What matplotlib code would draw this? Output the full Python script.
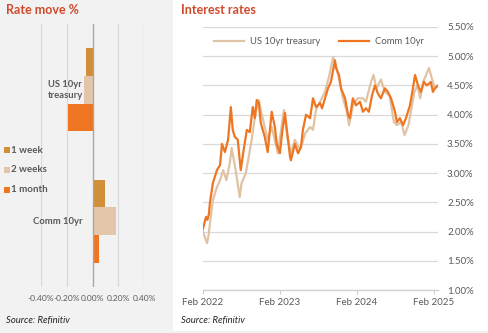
import matplotlib
matplotlib.use("Agg")
import matplotlib.pyplot as plt
import pandas as pd
from matplotlib.patches import Rectangle

# ---------------- data ----------------
bar_categories = ["US 10yr\ntreasury", "Comm 10yr"]
bar_series = ["1 week", "2 weeks", "1 month"]
move_1w = [-0.05, 0.10]
move_2w = [-0.065, 0.185]
move_1m = [-0.19, 0.05]
bar_ticks = [-0.40, -0.20, 0.0, 0.20, 0.40]

comm_dates = ["2022-02-01", "2022-02-08", "2022-02-15", "2022-02-22", "2022-03-01", "2022-03-06",
              "2022-03-20", "2022-04-08", "2022-04-23", "2022-05-02", "2022-05-16", "2022-05-31",
              "2022-06-13", "2022-06-22", "2022-07-02", "2022-07-16", "2022-07-30", "2022-08-13",
              "2022-08-28", "2022-09-11", "2022-09-25", "2022-10-05", "2022-10-14", "2022-10-24",
              "2022-11-02", "2022-11-21", "2022-12-05", "2022-12-24", "2023-01-08", "2023-01-17",
              "2023-02-01", "2023-02-11", "2023-02-25", "2023-03-02", "2023-03-21", "2023-03-25",
              "2023-04-13", "2023-04-28", "2023-05-12", "2023-05-21", "2023-06-05", "2023-06-24",
              "2023-07-08", "2023-07-22", "2023-07-31", "2023-08-10", "2023-08-20", "2023-09-03",
              "2023-09-17", "2023-10-01", "2023-10-20", "2023-10-25", "2023-11-08", "2023-11-18",
              "2023-12-07", "2023-12-21", "2023-12-30", "2024-01-13", "2024-01-28", "2024-02-16",
              "2024-03-01", "2024-03-15", "2024-03-29", "2024-04-13", "2024-04-27", "2024-05-11",
              "2024-05-25", "2024-06-13", "2024-06-27", "2024-07-12", "2024-07-31", "2024-08-09",
              "2024-08-23", "2024-09-07", "2024-09-21", "2024-10-10", "2024-10-24", "2024-11-03",
              "2024-11-17", "2024-12-01", "2024-12-15", "2024-12-29", "2025-01-17", "2025-01-27",
              "2025-02-05", "2025-02-20"]
comm_10yr = [2.05, 2.15, 2.25, 2.20, 2.30, 2.50,
             2.83, 3.05, 3.14, 3.50, 3.36, 3.57,
             4.13, 3.74, 3.62, 3.57, 3.05, 3.40,
             3.74, 3.70, 4.13, 3.94, 4.25, 4.20,
             3.86, 3.62, 3.36, 4.05, 3.79, 3.50,
             3.34, 3.68, 4.03, 3.86, 3.28, 3.22,
             3.50, 3.34, 3.45, 3.74, 4.00, 3.94,
             4.28, 4.13, 4.16, 4.20, 4.11, 4.28,
             4.45, 4.56, 4.93, 4.80, 4.68, 4.45,
             4.28, 4.00, 3.94, 4.28, 4.16, 4.22,
             4.05, 4.11, 4.05, 4.33, 4.50, 4.36,
             4.28, 4.45, 4.39, 4.28, 4.05, 3.87,
             3.94, 3.82, 3.94, 4.16, 4.45, 4.68,
             4.50, 4.39, 4.56, 4.50, 4.56, 4.39,
             4.45, 4.50]

us_dates = ["2022-02-01", "2022-02-10", "2022-02-20", "2022-02-28", "2022-03-06", "2022-03-20",
            "2022-04-08", "2022-04-23", "2022-05-08", "2022-05-23", "2022-06-08", "2022-06-17",
            "2022-07-06", "2022-07-25", "2022-08-03", "2022-08-23", "2022-09-06", "2022-09-20",
            "2022-10-05", "2022-10-19", "2022-10-24", "2022-11-02", "2022-11-21", "2022-12-05",
            "2022-12-24", "2023-01-12", "2023-01-22", "2023-02-20", "2023-03-08", "2023-03-25",
            "2023-04-13", "2023-05-08", "2023-06-01", "2023-06-24", "2023-07-08", "2023-07-22",
            "2023-08-10", "2023-09-03", "2023-09-24", "2023-10-11", "2023-10-25", "2023-11-08",
            "2023-11-27", "2023-12-16", "2023-12-26", "2024-01-13", "2024-02-05", "2024-03-01",
            "2024-03-15", "2024-04-08", "2024-04-20", "2024-05-04", "2024-05-11", "2024-05-25",
            "2024-06-13", "2024-07-05", "2024-07-26", "2024-08-09", "2024-08-30", "2024-09-14",
            "2024-10-03", "2024-10-17", "2024-10-31", "2024-11-14", "2024-11-28", "2024-12-12",
            "2025-01-08", "2025-01-22", "2025-02-05", "2025-02-20"]
us_10yr = [2.00, 1.90, 1.80, 1.95, 2.14, 2.54,
           2.76, 2.88, 3.05, 2.88, 3.17, 3.43,
           3.05, 2.59, 2.83, 3.00, 3.28, 3.57,
           3.96, 4.22, 4.25, 4.08, 3.79, 3.57,
           3.79, 3.50, 3.34, 4.08, 3.62, 3.34,
           3.57, 3.40, 3.68, 3.79, 3.74, 4.08,
           4.22, 4.39, 4.68, 4.98, 4.85, 4.62,
           4.28, 4.05, 3.82, 4.16, 4.28, 4.28,
           4.22, 4.56, 4.68, 4.45, 4.50, 4.60,
           4.39, 4.33, 3.87, 3.82, 3.87, 3.65,
           3.82, 4.11, 4.39, 4.50, 4.28, 4.56,
           4.80, 4.62, 4.45, 4.50]

y_ticks = [1.0, 1.5, 2.0, 2.5, 3.0, 3.5, 4.0, 4.5, 5.0, 5.5]
x_tick_dates = ["2022-02-01", "2023-02-01", "2024-02-01", "2025-02-01"]

# ---------------- style ----------------
FONT = "Lato"
plt.rcParams["font.family"] = [FONT, "DejaVu Sans"]
GRAY_TXT = "#595959"
GRID = "#d9d9d9"
TITLE_C = "#cf4a2c"
C_1W = "#d18f3a"
C_2W = "#e3c6a9"
C_1M = "#ee7623"
C_US = "#e0c3a4"
C_COMM = "#ee7623"
TICK_FS = 7

W, H = 488, 333
fig = plt.figure(figsize=(W / 100, H / 100), dpi=100)
fig.patch.set_facecolor("#f2f2f2")
fig.add_artist(Rectangle((173 / W, 2 / H), (W - 173) / W, (H - 2) / H,
                         transform=fig.transFigure, facecolor="white",
                         edgecolor="none", zorder=0))

def fx(px):
    return px / W

def fy(py):
    return 1 - py / H

# ---------------- left: bar chart ----------------
axL = fig.add_axes([fx(41), fy(287), fx(144) - fx(41), fy(24) - fy(287)])
axL.set_facecolor("none")
bh = 0.21
ypos = list(range(len(bar_categories)))
for vals, off, col in [(move_1w, -bh, C_1W), (move_2w, 0, C_2W), (move_1m, bh, C_1M)]:
    axL.barh([y + off for y in ypos], vals, height=bh, color=col, zorder=3)
axL.set_ylim(1.5, -0.5)
axL.set_xlim(-0.4, 0.4)
axL.set_xticks(bar_ticks)
axL.set_xticklabels(["-0.40%", "-0.20%", "0.00%", "0.20%", "0.40%"])
axL.grid(axis="x", color=GRID, linewidth=0.9, zorder=0)
axL.axvline(0, color="#a6a6a6", linewidth=0.9, zorder=4)
axL.set_yticks([])
for s in axL.spines.values():
    s.set_visible(False)
axL.tick_params(axis="x", length=0, pad=6, labelsize=6.0, labelcolor=GRAY_TXT)
for y, lab in zip(ypos, bar_categories):
    axL.annotate(lab, xy=(0, y), xytext=(-7, 0), textcoords="offset points",
                 ha="right", va="center", fontsize=6.8, fontweight="bold",
                 color=GRAY_TXT, linespacing=1.25, multialignment="center", zorder=5)

# legend for bars
for i, (lab, col) in enumerate(zip(bar_series, [C_1W, C_2W, C_1M])):
    yy = 150 + 20 * i
    fig.add_artist(Rectangle((fx(4), fy(yy + 3)), fx(6), (6 / H),
                             transform=fig.transFigure, facecolor=col, edgecolor="none"))
    fig.text(fx(11), fy(yy), lab, fontsize=7, color=GRAY_TXT, va="center", ha="left",
             fontweight="bold")

fig.text(fx(6), fy(10), "Rate move %", fontsize=9, fontweight="bold", color=TITLE_C,
         va="center", ha="left")
fig.text(fx(6), fy(321), "Source: Refinitiv", fontsize=6.8, style="italic", color="#222222",
         va="center", ha="left")

# ---------------- right: line chart ----------------
axR = fig.add_axes([fx(203), fy(290), fx(438) - fx(203), fy(27) - fy(290)])
axR.set_facecolor("none")
us_x = pd.to_datetime(us_dates)
comm_x = pd.to_datetime(comm_dates)
axR.plot(us_x, us_10yr, color=C_US, linewidth=1.6, label="US 10yr treasury", zorder=3)
axR.plot(comm_x, comm_10yr, color=C_COMM, linewidth=1.6, label="Comm 10yr", zorder=4)
axR.set_ylim(1.0, 5.5)
axR.set_xlim(pd.Timestamp("2022-02-01"), pd.Timestamp("2025-02-20"))
axR.set_yticks(y_ticks)
axR.set_yticklabels([f"{v:.2f}%" for v in y_ticks])
axR.yaxis.tick_right()
axR.grid(axis="y", color=GRID, linewidth=0.9, zorder=0)
xt = pd.to_datetime(x_tick_dates)
axR.set_xticks(xt)
axR.set_xticklabels([d.strftime("%b %Y") for d in xt])
for k in ["top", "left", "right"]:
    axR.spines[k].set_visible(False)
axR.spines["bottom"].set_color("#cfcfcf")
axR.spines["bottom"].set_linewidth(0.9)
axR.tick_params(axis="y", length=0, pad=6.5, labelsize=TICK_FS, labelcolor=GRAY_TXT)
axR.tick_params(axis="x", length=3, width=0.8, color="#cfcfcf", pad=3,
                labelsize=TICK_FS, labelcolor=GRAY_TXT)

axR.legend(loc="center", bbox_to_anchor=(fx(319), fy(42)), bbox_transform=fig.transFigure,
           ncol=2, frameon=False, fontsize=6.8, handlelength=3.2, columnspacing=2.0,
           handletextpad=0.6, labelcolor=GRAY_TXT)

fig.text(fx(181), fy(10), "Interest rates", fontsize=9, fontweight="bold", color=TITLE_C,
         va="center", ha="left")
fig.text(fx(181), fy(321), "Source: Refinitiv", fontsize=6.8, style="italic", color="#222222",
         va="center", ha="left")

fig.savefig("out.png", dpi=100, facecolor=fig.get_facecolor())
